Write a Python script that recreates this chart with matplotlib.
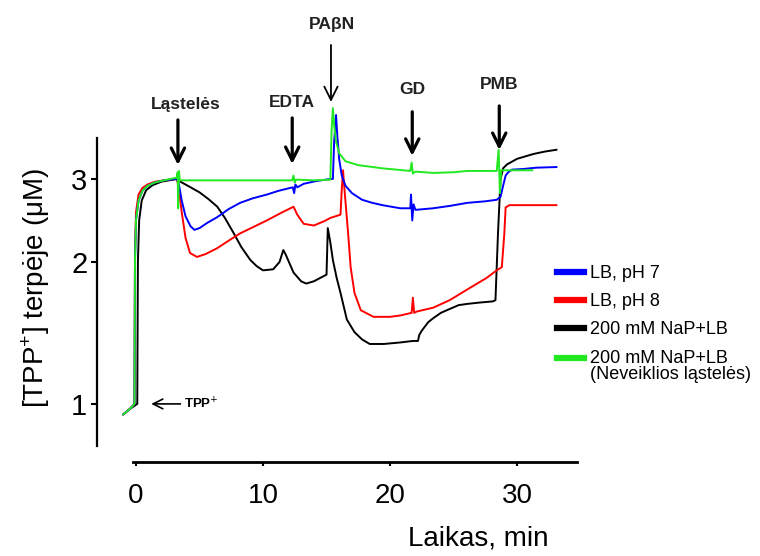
import matplotlib
matplotlib.use("Agg")
import matplotlib.pyplot as plt
from matplotlib.ticker import FixedLocator, FixedFormatter, NullLocator
from matplotlib.legend_handler import HandlerLine2D

plt.rcParams['font.family'] = ['Liberation Sans', 'DejaVu Sans']

# ---------------- data (time in min, [TPP+] in uM) ----------------
blue_t = [-1.0, -0.5, -0.12, -0.08, 0.0, 0.2, 0.5, 0.9, 1.5, 2.2, 3.2,
          3.35, 3.6, 3.9, 4.3, 4.6, 5.0, 5.6, 6.4, 7.3, 8.2, 9.2, 10.3, 11.2, 12.1,
          12.35, 12.45, 12.55, 12.7, 13.2, 14.2, 15.3, 15.5, 15.6, 15.75, 15.85,
          16.0, 16.2, 16.5, 17.0, 17.8, 18.6, 19.4, 20.8, 21.6, 21.65, 21.75, 21.85,
          22.0, 23.4, 24.7, 26.1, 27.5, 28.4, 28.7, 28.9, 29.1, 29.3, 29.6, 30.5,
          31.5, 33.1]
blue_v = [0.95, 0.975, 1.0, 2.0, 2.45, 2.7, 2.83, 2.9, 2.95, 2.98, 3.0,
          2.95, 2.7, 2.5, 2.38, 2.34, 2.36, 2.42, 2.49, 2.59, 2.67, 2.73, 2.78, 2.83, 2.87,
          2.88, 2.80, 2.92, 2.88, 2.93, 2.97, 3.0, 3.0, 3.6, 4.1, 3.7,
          3.3, 3.05, 2.9, 2.8, 2.71, 2.67, 2.64, 2.60, 2.60, 2.78, 2.45, 2.65,
          2.58, 2.60, 2.63, 2.67, 2.69, 2.71, 2.75, 2.9, 3.05, 3.1, 3.14, 3.15,
          3.17, 3.18]

red_t = [-1.0, -0.5, -0.12, -0.08, 0.0, 0.2, 0.5, 0.9, 1.5, 2.2, 3.2,
         3.35, 3.6, 3.9, 4.25, 4.8, 5.5, 6.4, 7.3, 8.2, 9.2, 10.3, 11.4, 12.4,
         12.7, 13.2, 14.0, 14.8, 15.3, 16.1, 16.2, 16.3, 16.4, 16.7, 16.9, 17.2,
         17.7, 18.7, 20.0, 20.8, 21.7, 21.8, 21.9, 22.1, 23.4, 24.7, 26.1, 27.6,
         28.4, 28.8, 29.0, 29.1, 29.4, 31.0, 33.1]
red_v = [0.95, 0.975, 1.0, 2.1, 2.55, 2.78, 2.87, 2.92, 2.96, 2.98, 3.0,
         2.9, 2.55, 2.25, 2.09, 2.05, 2.08, 2.14, 2.22, 2.30, 2.37, 2.45, 2.54, 2.62,
         2.52, 2.41, 2.39, 2.44, 2.48, 2.52, 2.85, 3.13, 2.88, 2.30, 1.95, 1.72,
         1.58, 1.53, 1.53, 1.54, 1.56, 1.68, 1.56, 1.57, 1.60, 1.66, 1.75, 1.85,
         1.92, 1.95, 2.3, 2.61, 2.64, 2.64, 2.64]

black_t = [-1.0, -0.5, 0.1, 0.15, 0.25, 0.45, 0.8, 1.3, 2.0, 3.2,
           3.5, 4.2, 5.0, 5.7, 6.4, 7.0, 7.7, 8.3, 9.0, 9.5, 10.0, 10.8, 11.3,
           11.6, 11.8, 12.4, 13.0, 13.4, 14.0, 14.5, 15.0, 15.1, 15.3, 15.5, 15.8,
           16.1, 16.6, 17.2, 17.8, 18.4, 19.5, 20.8, 21.8, 22.2, 22.3, 22.5, 23.0,
           23.4, 24.0, 24.7, 25.4, 26.1, 27.0, 28.1, 28.3, 28.5, 28.7, 28.9, 29.2,
           30.0, 31.3, 32.2, 33.1]
black_v = [0.95, 0.975, 1.0, 2.0, 2.45, 2.7, 2.84, 2.91, 2.96, 3.0,
           2.96, 2.89, 2.81, 2.72, 2.62, 2.48, 2.30, 2.15, 2.02, 1.96, 1.92, 1.93, 2.0,
           2.12, 2.07, 1.90, 1.82, 1.80, 1.82, 1.85, 1.88, 2.36, 2.2, 2.02, 1.85,
           1.72, 1.51, 1.42, 1.37, 1.34, 1.34, 1.35, 1.36, 1.36, 1.40, 1.43, 1.49,
           1.52, 1.56, 1.59, 1.62, 1.63, 1.64, 1.65, 1.66, 2.3, 3.0, 3.16, 3.22,
           3.31, 3.39, 3.43, 3.46]

green_t = [-1.0, -0.5, -0.12, -0.08, 0.0, 0.2, 0.5, 0.9, 1.5, 2.2, 3.2,
           3.28, 3.32, 3.38, 3.45, 5.0, 8.0, 10.0, 12.3, 12.4, 12.5, 12.6, 14.0,
           15.3, 15.4, 15.5, 15.6, 15.75, 16.0, 16.5, 17.5, 19.4, 21.6, 21.7, 21.8,
           22.0, 23.4, 25.0, 26.1, 28.4, 28.55, 28.65, 28.75, 29.5, 31.2]
green_v = [0.95, 0.975, 1.0, 2.0, 2.45, 2.7, 2.83, 2.9, 2.95, 2.98, 3.02,
           3.1, 2.6, 3.12, 2.98, 2.98, 2.98, 2.98, 2.98, 3.05, 2.95, 2.99, 2.98,
           2.99, 3.8, 4.24, 3.9, 3.6, 3.4, 3.27, 3.21, 3.16, 3.12, 3.25, 3.08,
           3.11, 3.09, 3.10, 3.12, 3.12, 3.46, 2.8, 3.13, 3.13, 3.13]

series_labels = ['LB, pH 7', 'LB, pH 8', '200 mM NaP+LB',
                 '200 mM NaP+LB\n(Neveiklios ląstelės)']
series_colors = ['#0000ff', '#ff0000', '#000000', '#22e822']

event_names = ['Ląstelės', 'EDTA', 'PA\u03b2N', 'GD', 'PMB']
event_times = [3.3, 12.3, 15.35, 21.75, 28.6]

x_ticks = [0, 10, 20, 30]
y_ticks = [1, 2, 3]
y_ticklabels = ['1', '2', '3']

# ---------------- figure ----------------
W, H = 760, 556
fig = plt.figure(figsize=(W / 100, H / 100), dpi=100)
ax = fig.add_axes([97 / W, 94 / H, 480 / W, 462 / H])

ax.set_yscale('log')
ax.set_xlim(-3.07, 34.72)
ax.set_ylim(0.753, 7.19)

lines = {}
order = [(black_t, black_v, 2), (red_t, red_v, 1),
         (blue_t, blue_v, 0), (green_t, green_v, 3)]
for t, v, idx in order:
    ln, = ax.plot(t, v, color=series_colors[idx], lw=1.4,
                  label=series_labels[idx], solid_joinstyle='round')
    lines[idx] = ln

# spines
for s in ['top', 'right']:
    ax.spines[s].set_visible(False)
ax.spines['left'].set_bounds(0.815, 3.66)
ax.spines['bottom'].set_bounds(-0.2, 34.7)
ax.spines['left'].set_linewidth(1.6)
ax.spines['bottom'].set_linewidth(2.0)

ax.xaxis.set_major_locator(FixedLocator(x_ticks))
ax.yaxis.set_major_locator(FixedLocator(y_ticks))
ax.yaxis.set_major_formatter(FixedFormatter(y_ticklabels))
ax.yaxis.set_minor_locator(NullLocator())
ax.tick_params(axis='x', direction='out', length=3, width=1.5, pad=12, labelsize=20)
ax.tick_params(axis='y', direction='out', length=4, width=1.5, pad=3, labelsize=21)

ax.set_ylabel(r'[TPP$^{\mathregular{+}}$] terpėje (μM)', fontsize=20)
ax.yaxis.label.set_va('center')
ax.yaxis.set_label_coords(-0.128, 0.377)
ax.set_xlabel('Laikas, min', fontsize=20)
ax.xaxis.label.set_va('center')
ax.xaxis.set_label_coords(0.794, -0.165)

# event arrows: (tip value, arrow length px, label baseline offset px, label x shift px)
geom = [(3.213, 45, 56, 8), (3.229, 46, 57, 0), (4.37, 57, 73, 1),
        (3.36, 44, 62, 0), (3.457, 44, 61, 0)]
for name, t, (tip, alen, loff, dx) in zip(event_names, event_times, geom):
    lw = 1.3 if name.startswith('PA') else 2.3
    ax.annotate('', xy=(t, tip), xytext=(0, alen), textcoords='offset pixels',
                arrowprops=dict(arrowstyle='->, head_length=0.6, head_width=0.3',
                                lw=lw, color='black', mutation_scale=16,
                                shrinkA=0, shrinkB=0), annotation_clip=False)
    ax.annotate(name, xy=(t, tip), xytext=(dx, loff), textcoords='offset pixels',
                ha='center', va='baseline', fontsize=12.5, fontweight='bold',
                color='#222222', annotation_clip=False)

# TPP+ arrow
ax.annotate('', xy=(1.2, 1.0), xytext=(3.5, 1.0),
            arrowprops=dict(arrowstyle='->, head_length=0.5, head_width=0.25',
                            lw=1.2, color='black', mutation_scale=14,
                            shrinkA=0, shrinkB=0))
ax.text(3.8, 1.0, r'TPP$^{+}$', fontsize=9.5, fontweight='bold', va='center', ha='left')


class TopAlignedLine(HandlerLine2D):
    """Place the legend line level with the first line of a two-line label."""
    def __init__(self, shift, **kw):
        super().__init__(**kw)
        self.shift = shift

    def create_artists(self, legend, orig_handle, xdescent, ydescent,
                       width, height, fontsize, trans):
        arts = super().create_artists(legend, orig_handle, xdescent, ydescent,
                                      width, height, fontsize, trans)
        for a in arts:
            a.set_ydata([y + self.shift for y in a.get_ydata()])
        return arts


handles = [lines[0], lines[1], lines[2], lines[3]]
leg = ax.legend(handles=handles, labels=series_labels, loc='upper left',
                bbox_to_anchor=(557 / W, 1 - 265 / H), bbox_transform=fig.transFigure,
                frameon=False, fontsize=13, handlelength=1.5, handletextpad=0.3,
                borderpad=0, borderaxespad=0, labelspacing=0.62,
                handler_map={lines[3]: TopAlignedLine(shift=6.0)})
for txt in leg.get_texts():
    txt.set_linespacing(0.95)
for lh in leg.get_lines():
    lh.set_linewidth(4.5)

fig.savefig('out.png', dpi=100)
